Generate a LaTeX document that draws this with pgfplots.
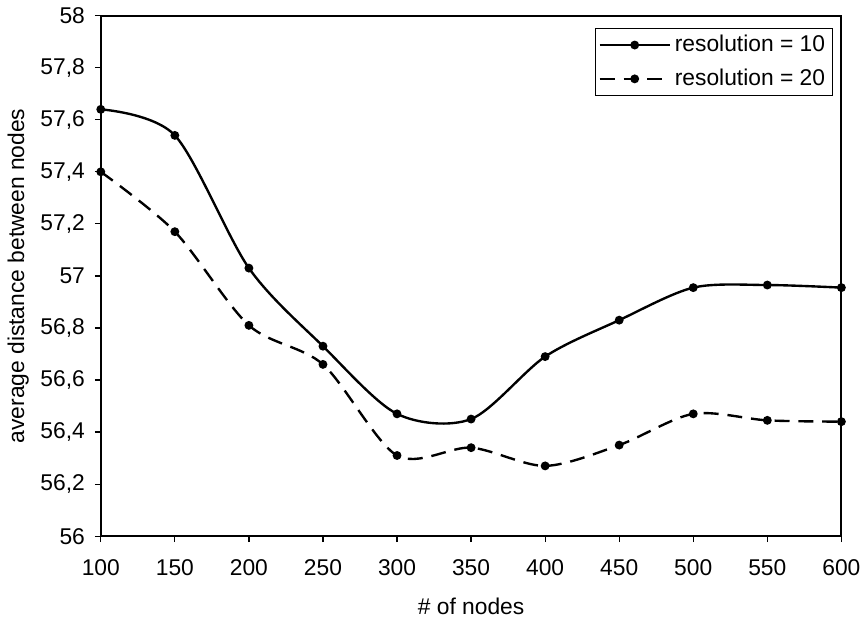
\documentclass[border=0pt]{standalone}
\usepackage{fontspec}
\setmainfont{Liberation Sans}
\usepackage{pgfplots}
\pgfplotsset{compat=1.18}
\begin{document}
\fontsize{11.5}{13.5}\selectfont
\begin{tikzpicture}
\begin{axis}[
  scale only axis,
  width=373.5pt, height=262.5pt,
  xmin=100, xmax=600, ymin=56, ymax=58,
  xtick={100,150,...,600},
  ytick={56,56.2,...,58.01},
  tick align=outside,
  xtick pos=left, ytick pos=left,
  major tick length=3pt,
  tick style={black, line width=0.6pt},
  axis line style={line width=1pt},
  /pgf/number format/assume math mode=true,
  /pgf/number format/use comma,
  yticklabel style={/pgf/number format/fixed, /pgf/number format/precision=1, xshift=-1pt},
  xticklabel style={/pgf/number format/1000 sep={}, yshift=-5pt},
  xlabel={\# of nodes},
  ylabel={average distance between nodes},
  xlabel style={yshift=-3pt},
  ylabel style={yshift=-2pt},
  legend style={at={(0.988,0.977)}, anchor=north east, draw=black, line width=0.5pt,
    font=\fontsize{11.5}{13.5}\selectfont, inner sep=1.5pt, row sep=3pt,
    /tikz/every even column/.append style={column sep=0pt}},
  legend cell align=left,
  legend image code/.code={
    \draw[#1, mark repeat=2, mark phase=2] plot coordinates {(0cm,0cm) (0.62cm,0cm) (1.24cm,0cm)};
  },
]
\addplot[black, line width=1.2pt, smooth, tension=0.5, mark=*, mark size=1.6pt,
  mark options={solid}] coordinates {
  (100,57.64) (150,57.54) (200,57.03) (250,56.73) (300,56.47) (350,56.45)
  (400,56.69) (450,56.83) (500,56.955) (550,56.965) (600,56.955)
};
\addlegendentry{resolution = 10}
\addplot[black, line width=1.2pt, smooth, tension=0.5, mark=*, mark size=1.6pt,
  dash pattern=on 7.5pt off 4.5pt, mark options={solid}] coordinates {
  (100,57.40) (150,57.17) (200,56.81) (250,56.66) (300,56.31) (350,56.34)
  (400,56.27) (450,56.35) (500,56.47) (550,56.445) (600,56.44)
};
\addlegendentry{resolution = 20}
\end{axis}
\end{tikzpicture}
\end{document}
